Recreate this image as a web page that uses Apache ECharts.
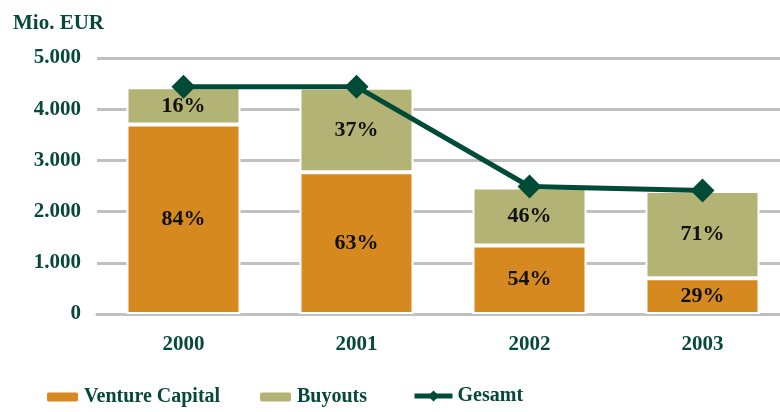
<!DOCTYPE html>
<html>
<head>
    <meta charset="UTF-8">
    <title>Venture Capital / Buyouts</title>
    <style>
        html, body {
            margin: 0;
            padding: 0;
            background: #fff;
        }

        #chart {
            width: 780px;
            height: 412px;
        }
    </style>
</head>
<body>
<div id="chart"></div>
<script src="https://cdn.jsdelivr.net/npm/echarts@6/dist/echarts.min.js"></script>
<script>
    // Daten (Mio. EUR)
    var years = ['2000', '2001', '2002', '2003'];
    var ventureCapital = [3700, 2770, 1340, 700];
    var buyouts = [730, 1650, 1130, 1700];
    var gesamt = [4440, 4440, 2490, 2410];
    var vcPct = [84, 63, 54, 29];
    var boPct = [16, 37, 46, 71];
    var yTicks = [0, 1000, 2000, 3000, 4000, 5000];

    var green = '#06493A', serif = '"Liberation Serif", "Times New Roman", serif';

    var fmtTick = function (v) {
        return String(v).replace(/\B(?=(\d{3})+(?!\d))/g, '.');
    };

    var pctLabel = function (arr) {
        return {
            show: true,
            position: 'inside',
            color: '#111',
            fontFamily: serif,
            fontWeight: 'bold',
            fontSize: 22,
            formatter: function (p) {
                return arr[p.dataIndex] + '%';
            }
        };
    };

    var legendText = {color: green, fontFamily: serif, fontWeight: 'bold', fontSize: 20};

    var chart = echarts.init(document.getElementById('chart'));
    chart.setOption({
        animation: false,
        title: {
            text: 'Mio. EUR',
            left: 8,
            top: 8,
            textStyle: {color: green, fontFamily: serif, fontWeight: 'bold', fontSize: 21}
        },
        grid: {left: 97, top: 58, width: 692, height: 256, outerBoundsMode: 'none'},
        legend: [
            {data: ['Venture Capital'], left: 40, top: 382, itemWidth: 33, itemHeight: 11, itemGap: 8, textStyle: legendText},
            {data: ['Buyouts'], left: 253, top: 382, itemWidth: 33, itemHeight: 11, textStyle: legendText},
            {
                data: ['Gesamt'], left: 407, top: 381, itemWidth: 38, itemHeight: 14, itemGap: 4,
                lineStyle: {width: 5}, textStyle: legendText
            }
        ],
        xAxis: {
            type: 'category',
            data: years,
            axisLine: {show: true, lineStyle: {color: '#C0C0C0', width: 3}},
            axisTick: {show: false},
            axisLabel: {color: green, fontFamily: serif, fontWeight: 'bold', fontSize: 21, margin: 20}
        },
        yAxis: {
            type: 'value',
            min: yTicks[0],
            max: yTicks[yTicks.length - 1],
            interval: 1000,
            axisLine: {show: false},
            axisTick: {show: false},
            splitLine: {lineStyle: {color: '#C0C0C0', width: 3}},
            axisLabel: {
                color: green, fontFamily: serif, fontWeight: 'bold', fontSize: 21, margin: 16,
                formatter: fmtTick
            }
        },
        series: [
            {
                name: 'Venture Capital',
                type: 'bar',
                stack: 'total',
                barWidth: 114,
                data: ventureCapital,
                itemStyle: {color: '#D5891E', borderColor: '#fff', borderWidth: 2},
                label: pctLabel(vcPct)
            },
            {
                name: 'Buyouts',
                type: 'bar',
                stack: 'total',
                data: buyouts,
                itemStyle: {color: '#B3B375', borderColor: '#fff', borderWidth: 2},
                label: pctLabel(boPct)
            },
            {
                name: 'Gesamt',
                type: 'line',
                data: gesamt,
                symbol: 'diamond',
                symbolSize: 24,
                lineStyle: {color: '#004A38', width: 5},
                itemStyle: {color: '#004A38'},
                z: 5
            }
        ]
    });
</script>
</body>
</html>
